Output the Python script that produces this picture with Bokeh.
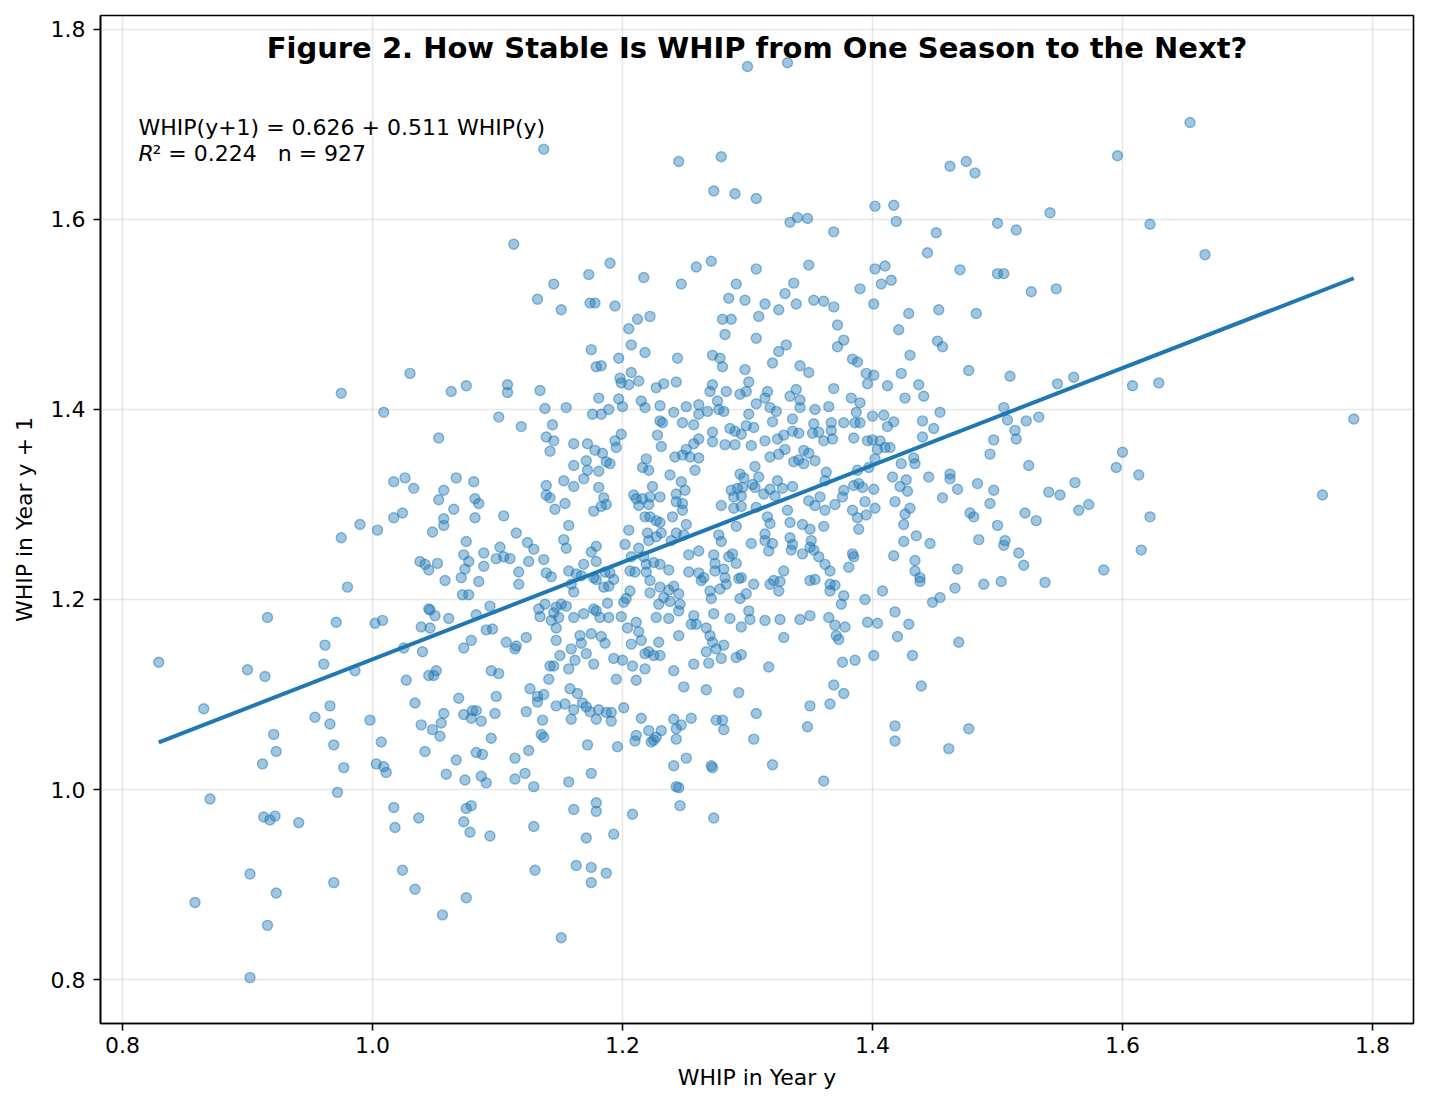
from bokeh.plotting import figure
from bokeh.models import Label, Range1d, FixedTicker, PrintfTickFormatter
from bokeh.embed import file_html
from bokeh.resources import INLINE

# WHIP in year y (x) and WHIP in year y+1 (y)
whip_y = [
1.063,1.075,1.108,1.108,1.134,1.138,1.155,1.176,1.183,1.181,1.189,1.197,1.200,1.199,1.205,1.213,1.215,1.218,1.227,1.233,
1.243,1.230,1.241,1.251,1.261,1.261,1.268,1.272,1.270,1.276,1.277,1.281,1.283,1.294,1.299,1.301,1.301,1.307,1.101,1.119,
1.144,1.139,1.145,1.142,1.053,1.161,1.172,1.178,1.184,1.194,1.199,1.195,1.228,1.230,1.232,1.231,1.248,1.257,1.272,1.272,
1.286,1.290,1.295,1.299,1.305,1.282,1.290,1.303,1.261,1.257,1.251,1.171,1.187,1.190,1.161,1.172,1.181,1.219,1.216,1.221,
1.242,1.248,1.254,1.261,1.258,1.238,1.247,1.294,1.297,1.306,1.309,1.169,1.153,1.139,1.161,1.181,1.067,1.081,1.057,1.053,
1.139,1.142,1.154,1.146,1.082,1.085,1.065,1.185,1.183,1.177,1.187,1.209,1.211,1.216,1.222,1.230,1.224,1.213,1.221,1.243,
1.250,1.243,1.248,1.248,1.287,1.292,1.296,1.289,1.295,1.306,1.304,1.279,1.289,1.295,1.307,1.057,1.057,1.048,1.082,1.105,
1.115,1.157,1.153,1.155,1.205,1.218,1.222,1.227,1.230,1.231,1.220,1.240,1.251,1.249,1.243,1.239,1.277,1.279,1.291,1.303,
1.075,1.202,1.213,1.221,1.227,1.124,1.073,1.077,1.074,1.089,1.102,1.099,1.105,1.110,1.129,1.125,1.137,1.175,1.179,1.179,
1.169,1.157,1.139,1.143,1.163,1.167,1.177,1.179,1.186,1.190,1.193,1.207,1.217,1.219,1.225,1.230,1.237,1.219,1.206,1.210,
1.253,1.261,1.273,1.274,1.274,1.285,1.288,1.291,1.281,1.282,1.293,1.295,1.052,1.089,1.117,1.253,1.261,1.265,1.058,1.071,
1.085,1.117,1.072,1.077,1.159,1.161,1.185,1.189,1.206,1.201,1.203,1.222,1.222,1.230,1.233,1.237,1.241,1.245,1.246,1.263,
1.270,1.271,1.278,1.283,1.294,1.299,1.305,1.094,1.083,1.046,1.050,1.061,1.133,1.134,1.138,1.147,1.151,1.155,1.145,1.149,
1.161,1.169,1.177,1.179,1.182,1.188,1.189,1.199,1.229,1.238,1.245,1.227,1.237,1.257,1.273,1.286,1.301,1.091,1.096,1.079,
1.073,1.107,1.115,1.114,1.123,1.143,1.147,1.147,1.159,1.166,1.167,1.175,1.183,1.186,1.204,1.211,1.213,1.215,1.207,1.229,
1.245,1.255,1.259,1.267,1.270,1.272,1.281,1.295,1.302,1.046,1.150,1.142,1.145,1.157,1.162,1.171,1.177,1.193,1.200,1.218,
1.221,1.225,1.230,1.208,1.218,1.241,1.257,1.269,1.267,1.275,1.279,1.291,1.295,1.095,1.101,1.051,1.049,1.141,1.195,1.211,
# right-centre block
1.316,1.314,1.318,1.323,1.334,1.339,1.342,1.342,1.354,1.365,1.369,1.383,1.390,1.387,1.396,1.412,1.426,1.437,1.441,1.454,
1.505,1.548,1.561,1.320,1.324,1.314,1.329,1.336,1.336,1.341,1.353,1.352,1.357,1.361,1.367,1.367,1.368,1.377,1.385,1.386,
1.390,1.400,1.409,1.412,1.417,1.396,1.400,1.406,1.410,1.414,1.404,1.440,1.449,1.440,1.508,1.514,1.515,1.523,1.533,1.497,
1.494,1.318,1.325,1.330,1.337,1.341,1.345,1.349,1.345,1.354,1.363,1.362,1.324,1.318,1.313,1.328,1.336,1.402,1.433,1.434,
1.423,1.388,1.416,1.427,1.422,1.428,1.445,1.462,1.462,1.468,1.484,1.497,1.494,1.525,1.541,1.550,1.562,1.397,1.385,1.389,
1.392,1.401,1.322,1.332,1.349,1.354,1.358,1.362,1.370,1.376,1.377,1.384,1.394,1.395,1.402,1.418,1.430,1.426,1.456,1.478,
1.481,1.500,1.522,1.531,1.565,1.573,1.316,1.318,1.334,1.344,1.350,1.361,1.388,1.389,1.425,1.314,1.314,1.320,1.317,1.334,
1.336,1.335,1.351,1.350,1.353,1.344,1.425,1.435,1.446,1.485,1.506,1.505,1.417,1.357,1.362,1.366,1.384,1.385,1.381,1.434,
1.434,1.438,1.438,1.468,1.466,1.489,1.503,1.517,1.521,1.538,1.329,1.321,1.326,1.318,1.325,1.350,1.354,1.366,1.370,1.366,
1.377,1.375,1.394,1.408,1.448,1.454,1.314,1.326,1.342,1.350,1.365,1.370,1.378,1.396,1.404,1.418,1.429,1.329,1.371,1.373,
1.420,1.469,1.317,1.376,1.386,1.401,1.432,
# lower-centre block
1.069,1.099,1.126,1.132,1.137,1.132,1.158,1.164,1.057,1.055,1.048,1.054,1.073,1.080,1.083,1.079,1.087,1.098,1.095,1.123,
1.136,1.135,1.137,1.147,1.154,1.161,1.159,1.168,1.171,1.174,1.181,1.179,1.187,1.191,1.191,1.201,1.215,1.211,1.210,1.221,
1.223,1.227,1.231,1.225,1.241,1.243,1.247,1.255,1.243,1.249,1.267,1.293,1.275,1.280,1.281,1.307,1.305,1.196,1.172,1.067,
1.083,1.088,1.114,1.125,1.059,1.074,1.087,1.091,1.114,1.122,1.129,1.157,1.175,1.241,1.251,1.271,1.272,1.243,1.245,1.075,
1.079,1.073,1.078,1.094,1.129,1.161,1.179,1.179,1.171,1.193,1.208,1.246,1.273,1.130,1.163,1.175,1.187,1.175,1.075,1.056,
1.151,
1.369,1.377,1.350,1.366,1.348,1.320,1.361,1.439,1.418,1.418,1.461,1.477,
# upper block
1.137,1.245,1.279,1.273,1.290,1.307,1.113,1.190,1.173,1.217,1.145,1.132,1.151,1.174,1.178,1.194,1.212,1.222,1.205,1.207,
1.218,1.175,1.197,1.179,1.183,1.198,1.207,1.244,1.259,1.271,1.247,1.291,1.285,1.298,1.307,1.280,1.287,1.309,1.282,1.307,
1.272,1.278,1.280,1.298,
1.462,1.475,1.482,1.402,1.417,1.419,1.334,1.340,1.348,1.369,1.451,1.444,1.500,1.515,1.542,1.470,1.500,1.505,1.527,1.547,
1.349,1.402,1.410,1.407,1.415,1.390,1.401,1.429,1.453,1.483,1.421,1.452,1.456,1.430,1.477,1.510,1.423,1.337,1.330,1.314,
1.325,1.339,1.353,1.361,1.369,1.372,1.377,1.372,1.325,1.331,1.320,1.342,1.349,1.384,1.388,1.395,1.401,
1.300,1.332,
# far right
1.654,1.596,1.622,1.666,1.608,1.629,1.785,1.600,1.595,1.613,1.760,1.622,1.615,1.585,
# left block
1.030,0.975,1.009,1.017,1.026,1.033,1.024,1.017,0.990,1.004,0.975,1.038,1.042,1.045,0.980,1.045,0.971,1.002,1.008,1.039,
1.025,1.040,0.916,0.962,0.961,0.829,0.900,0.914,0.986,1.027,1.045,
0.865,0.921,0.923,0.912,0.870,0.913,0.918,0.922,0.941,0.954,0.966,0.966,0.969,0.977,0.972,0.998,1.007,1.003,1.009,1.011,
1.034,1.039,1.042,1.017,1.037,1.018,1.024,1.034,0.902,0.923,0.858,0.969,0.916,0.902,
]

whip_next = [
1.419,1.425,1.426,1.418,1.420,1.401,1.402,1.395,1.395,1.412,1.400,1.411,1.403,1.428,1.426,1.430,1.409,1.402,1.423,1.427,
1.429,1.404,1.397,1.403,1.405,1.395,1.398,1.426,1.419,1.409,1.400,1.398,1.419,1.416,1.419,1.429,1.395,1.406,1.392,1.382,
1.384,1.371,1.367,1.356,1.370,1.364,1.364,1.357,1.354,1.367,1.374,1.360,1.373,1.388,1.386,1.361,1.386,1.384,1.376,1.366,
1.380,1.377,1.374,1.383,1.381,1.363,1.363,1.362,1.369,1.364,1.358,1.346,1.345,1.343,1.341,1.336,1.335,1.348,1.339,1.336,
1.350,1.352,1.350,1.349,1.336,1.331,1.324,1.332,1.328,1.340,1.329,1.327,1.325,1.320,1.319,1.318,1.328,1.324,1.315,1.305,
1.310,1.307,1.301,1.295,1.306,1.301,1.295,1.307,1.298,1.293,1.300,1.310,1.306,1.306,1.308,1.308,1.319,1.299,1.300,1.311,
1.315,1.303,1.301,1.294,1.315,1.317,1.318,1.308,1.309,1.318,1.321,1.299,1.296,1.298,1.297,1.285,1.278,1.271,1.286,1.288,
1.270,1.278,1.263,1.254,1.273,1.287,1.287,1.283,1.281,1.270,1.270,1.287,1.279,1.268,1.270,1.262,1.268,1.261,1.277,1.259,
1.261,1.258,1.254,1.262,1.266,1.260,1.247,1.240,1.232,1.249,1.255,1.243,1.245,1.243,1.253,1.240,1.242,1.250,1.256,1.240,
1.237,1.230,1.228,1.224,1.227,1.225,1.223,1.221,1.229,1.228,1.221,1.245,1.245,1.237,1.239,1.237,1.231,1.229,1.230,1.229,
1.247,1.251,1.247,1.238,1.230,1.245,1.248,1.238,1.232,1.223,1.222,1.223,1.238,1.235,1.229,1.229,1.228,1.223,1.220,1.223,
1.219,1.216,1.205,1.205,1.216,1.208,1.213,1.214,1.209,1.197,1.201,1.220,1.207,1.213,1.202,1.210,1.214,1.206,1.195,1.220,
1.209,1.201,1.211,1.216,1.201,1.206,1.216,1.193,1.184,1.189,1.183,1.180,1.190,1.182,1.195,1.192,1.195,1.193,1.186,1.181,
1.181,1.185,1.190,1.188,1.181,1.196,1.181,1.182,1.195,1.198,1.188,1.181,1.180,1.183,1.185,1.180,1.188,1.168,1.169,1.157,
1.149,1.155,1.151,1.148,1.160,1.178,1.170,1.157,1.148,1.162,1.154,1.164,1.161,1.154,1.170,1.176,1.166,1.157,1.153,1.155,
1.162,1.174,1.174,1.170,1.162,1.155,1.152,1.171,1.179,1.170,1.141,1.130,1.130,1.127,1.136,1.143,1.132,1.138,1.136,1.143,
1.145,1.141,1.141,1.130,1.127,1.125,1.132,1.133,1.145,1.148,1.138,1.139,1.142,1.125,1.122,1.125,1.120,1.116,1.116,1.115,
# right-centre block
1.419,1.412,1.402,1.398,1.414,1.421,1.410,1.402,1.400,1.403,1.422,1.412,1.407,1.397,1.427,1.425,1.412,1.426,1.414,1.397,
1.402,1.427,1.434,1.387,1.369,1.367,1.373,1.390,1.377,1.375,1.385,1.375,1.376,1.367,1.386,1.378,1.369,1.386,1.370,1.386,
1.386,1.393,1.394,1.382,1.387,1.367,1.368,1.367,1.360,1.360,1.358,1.388,1.380,1.371,1.389,1.378,1.369,1.388,1.392,1.368,
1.353,1.350,1.353,1.358,1.345,1.347,1.357,1.354,1.343,1.346,1.334,1.325,1.325,1.316,1.311,1.317,1.319,1.348,1.349,1.343,
1.343,1.336,1.329,1.326,1.319,1.314,1.329,1.332,1.327,1.316,1.322,1.315,1.301,1.341,1.313,1.310,1.323,1.339,1.320,1.322,
1.318,1.316,1.309,1.294,1.304,1.299,1.308,1.294,1.300,1.308,1.315,1.294,1.303,1.289,1.296,1.303,1.296,1.290,1.307,1.291,
1.287,1.278,1.291,1.283,1.294,1.300,1.287,1.280,1.281,1.279,1.274,1.277,1.286,1.274,1.279,1.269,1.262,1.259,1.251,1.265,
1.258,1.252,1.262,1.255,1.252,1.248,1.261,1.267,1.259,1.263,1.262,1.257,1.246,1.245,1.237,1.230,1.248,1.245,1.234,1.241,
1.230,1.223,1.219,1.232,1.212,1.216,1.219,1.249,1.236,1.218,1.230,1.220,1.219,1.216,1.209,1.220,1.221,1.216,1.215,1.209,
1.204,1.195,1.200,1.209,1.197,1.202,1.178,1.179,1.179,1.183,1.181,1.173,1.171,1.176,1.175,1.187,1.174,1.160,1.162,1.158,
1.161,1.155,1.129,1.134,1.136,1.141,1.141,
# lower-centre block
1.096,1.098,1.106,1.098,1.100,1.092,1.106,1.101,1.080,1.070,1.063,1.056,1.079,1.083,1.083,1.075,1.072,1.080,1.054,1.082,
1.073,1.058,1.055,1.088,1.090,1.084,1.074,1.091,1.087,1.082,1.084,1.074,1.081,1.081,1.072,1.086,1.075,1.057,1.051,1.062,
1.050,1.055,1.062,1.052,1.074,1.064,1.068,1.075,1.053,1.108,1.105,1.102,1.073,1.073,1.063,1.080,1.053,1.045,1.047,1.031,
1.039,1.037,1.033,1.041,1.016,1.010,1.014,1.007,1.011,1.017,1.003,1.008,1.017,1.025,1.033,1.025,1.023,1.003,1.002,0.980,
0.983,0.966,0.955,0.951,0.961,0.979,0.986,0.977,0.949,0.953,0.974,0.983,0.970,0.915,0.920,0.918,0.912,0.902,0.886,0.868,
0.844,
1.110,1.101,1.088,1.090,1.066,1.026,1.009,1.109,1.067,1.051,1.043,1.064,
# upper block
1.674,1.661,1.666,1.630,1.627,1.622,1.574,1.554,1.542,1.539,1.532,1.516,1.505,1.512,1.512,1.509,1.495,1.498,1.485,1.468,
1.460,1.463,1.454,1.445,1.446,1.433,1.439,1.454,1.550,1.556,1.532,1.532,1.517,1.515,1.548,1.495,1.495,1.498,1.479,1.475,
1.457,1.454,1.445,1.442,
1.656,1.661,1.649,1.614,1.615,1.598,1.597,1.602,1.601,1.587,1.586,1.565,1.596,1.589,1.607,1.547,1.543,1.543,1.524,1.527,
1.552,1.548,1.551,1.532,1.536,1.527,1.511,1.501,1.505,1.501,1.484,1.472,1.466,1.457,1.441,1.435,1.438,1.533,1.522,1.511,
1.505,1.511,1.515,1.514,1.508,1.489,1.473,1.466,1.461,1.468,1.449,1.446,1.439,1.453,1.450,1.438,1.436,
1.761,1.765,
# far right
1.702,1.667,1.595,1.563,1.425,1.428,1.390,1.355,1.339,1.331,1.310,1.287,1.252,1.231,
# left block
1.438,1.417,1.397,1.324,1.328,1.317,1.291,1.286,1.279,1.273,1.265,1.240,1.237,1.231,1.213,1.190,1.176,1.175,1.178,1.171,
1.149,1.145,1.181,1.152,1.132,1.134,1.126,1.119,1.125,1.115,1.120,
1.085,1.058,1.040,1.027,0.990,0.971,0.968,0.972,0.965,1.076,1.088,1.069,1.047,1.023,0.997,1.073,1.050,1.027,1.024,1.018,
1.091,1.068,1.040,0.981,0.970,0.960,0.915,0.895,0.911,0.891,0.881,0.902,0.857,0.802,
]

x_ticks = [0.8, 1.0, 1.2, 1.4, 1.6, 1.8]
y_ticks = [0.8, 1.0, 1.2, 1.4, 1.6, 1.8]
intercept = 0.626
slope = 0.511
r_squared = 0.224
n_obs = 927

title_text = "Figure 2. How Stable Is WHIP from One Season to the Next?"
eq_text = f"WHIP(y+1) = {intercept:.3f} + {slope:.3f} WHIP(y)"
stat_text = f"\u00b2 = {r_squared:.3f}\u00a0\u00a0\u00a0n = {n_obs}"

n = min(len(whip_y), len(whip_next))
xs = whip_y[:n]
ys = whip_next[:n]

FONT = "DejaVu Sans"
BLUE = "#1f77b4"
TXT = "22px"

p = figure(width=1421, height=1100, output_backend="svg", toolbar_location=None,
           x_range=Range1d(0.7824, 1.8328), y_range=Range1d(0.7537, 1.8147),
           min_border_left=100, min_border_right=8, min_border_top=15, min_border_bottom=77)
p.background_fill_color = "white"
p.border_fill_color = "white"
p.outline_line_color = "black"
p.outline_line_width = 1.6
p.outline_line_alpha = 1.0

for ax, ticks in ((p.xaxis, x_ticks), (p.yaxis, y_ticks)):
    ax.ticker = FixedTicker(ticks=ticks)
    ax.formatter = PrintfTickFormatter(format="%.1f")
    ax.major_tick_out = 7
    ax.major_tick_in = 0
    ax.minor_tick_line_color = None
    ax.major_tick_line_width = 1.6
    ax.axis_line_width = 1.6
    ax.major_label_text_font = FONT
    ax.major_label_text_font_size = TXT
    ax.major_label_text_color = "black"
    ax.axis_label_text_font = FONT
    ax.axis_label_text_font_size = TXT
    ax.axis_label_text_font_style = "normal"
    ax.axis_label_text_color = "black"

p.xaxis.axis_label = "WHIP in Year y"
p.yaxis.axis_label = "WHIP in Year y + 1"
p.xaxis.major_label_standoff = 6
p.yaxis.major_label_standoff = 8
p.xaxis.axis_label_standoff = 9
p.yaxis.axis_label_standoff = 11

p.xgrid.ticker = FixedTicker(ticks=x_ticks)
p.ygrid.ticker = FixedTicker(ticks=y_ticks)
for g in (p.xgrid, p.ygrid):
    g.grid_line_color = "#b0b0b0"
    g.grid_line_alpha = 0.3
    g.grid_line_width = 1.5

p.scatter(xs, ys, size=10, marker="circle", fill_color=BLUE, fill_alpha=0.42,
          line_color=BLUE, line_alpha=0.5, line_width=1.4)

x0, x1 = min(xs), max(xs)
p.line([x0, x1], [intercept + slope * x0, intercept + slope * x1], line_color=BLUE, line_width=4)

p.add_layout(Label(x=1.3076, y=1.780, text=title_text, text_align="center", text_baseline="middle",
                   text_font=FONT, text_font_size="29px", text_font_style="bold", text_color="black"))
p.add_layout(Label(x=0.8128, y=1.6968, text=eq_text, text_align="left", text_baseline="middle",
                   text_font=FONT, text_font_size=TXT, text_color="black"))
p.add_layout(Label(x=0.8128, y=1.6695, text="R", text_align="left", text_baseline="middle",
                   text_font=FONT, text_font_size=TXT, text_font_style="italic", text_color="black"))
p.add_layout(Label(x=0.8128, y=1.6695, x_offset=14, text=stat_text, text_align="left", text_baseline="middle",
                   text_font=FONT, text_font_size=TXT, text_color="black"))

open("out.html", "w").write(file_html(p, INLINE))
